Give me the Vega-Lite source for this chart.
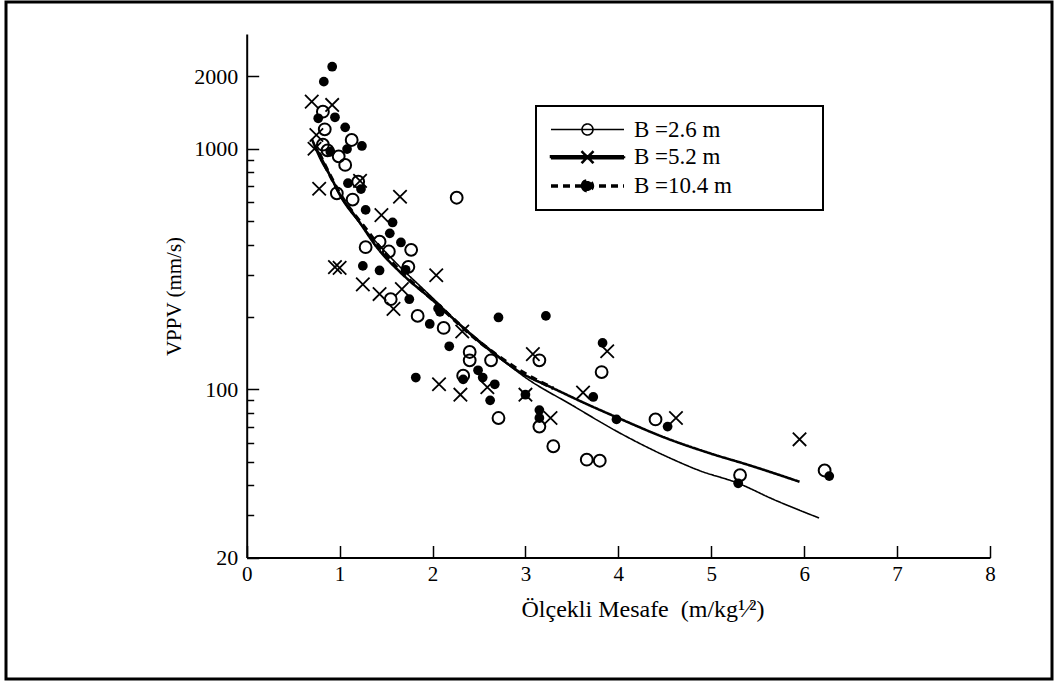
{
  "$schema": "https://vega.github.io/schema/vega-lite/v6.json",
  "width": 1046,
  "height": 677,
  "autosize": {"type": "none"},
  "padding": {"left": 6, "top": 2, "right": 10, "bottom": 3},
  "background": "white",
  "config": {
    "view": {"stroke": "black", "strokeWidth": 3},
    "font": "Liberation Serif",
    "axis": {
      "grid": false,
      "domainColor": "black",
      "domainWidth": 2,
      "tickColor": "black",
      "tickWidth": 1.5,
      "labelColor": "black",
      "titleColor": "black",
      "labelFont": "Liberation Serif",
      "titleFont": "Liberation Serif",
      "titleFontWeight": "normal",
      "labelOverlap": false,
      "labelFlush": false
    }
  },
  "datasets": {
    "points": [
      {"B": "B =2.6 m", "d": 0.82, "v": 1426},
      {"B": "B =2.6 m", "d": 0.84, "v": 1205},
      {"B": "B =2.6 m", "d": 1.13, "v": 1088},
      {"B": "B =2.6 m", "d": 0.82, "v": 1040},
      {"B": "B =2.6 m", "d": 0.87, "v": 985},
      {"B": "B =2.6 m", "d": 0.99, "v": 930},
      {"B": "B =2.6 m", "d": 1.06, "v": 857},
      {"B": "B =2.6 m", "d": 1.2, "v": 730},
      {"B": "B =2.6 m", "d": 0.97, "v": 653},
      {"B": "B =2.6 m", "d": 1.14, "v": 615},
      {"B": "B =2.6 m", "d": 2.26, "v": 626},
      {"B": "B =2.6 m", "d": 1.28, "v": 390},
      {"B": "B =2.6 m", "d": 1.43, "v": 411},
      {"B": "B =2.6 m", "d": 1.53, "v": 374},
      {"B": "B =2.6 m", "d": 1.77, "v": 380},
      {"B": "B =2.6 m", "d": 1.74, "v": 323},
      {"B": "B =2.6 m", "d": 1.55, "v": 237},
      {"B": "B =2.6 m", "d": 1.84, "v": 202},
      {"B": "B =2.6 m", "d": 2.12, "v": 180},
      {"B": "B =2.6 m", "d": 2.4, "v": 143},
      {"B": "B =2.6 m", "d": 2.4, "v": 132},
      {"B": "B =2.6 m", "d": 2.63, "v": 132},
      {"B": "B =2.6 m", "d": 2.33, "v": 114},
      {"B": "B =2.6 m", "d": 2.71, "v": 76},
      {"B": "B =2.6 m", "d": 3.15, "v": 132},
      {"B": "B =2.6 m", "d": 3.15, "v": 70},
      {"B": "B =2.6 m", "d": 3.3, "v": 58},
      {"B": "B =2.6 m", "d": 3.66, "v": 51},
      {"B": "B =2.6 m", "d": 3.8, "v": 50.5},
      {"B": "B =2.6 m", "d": 3.82, "v": 118},
      {"B": "B =2.6 m", "d": 4.4, "v": 75},
      {"B": "B =2.6 m", "d": 5.31, "v": 44},
      {"B": "B =2.6 m", "d": 6.22, "v": 46},
      {"B": "B =5.2 m", "d": 0.7, "v": 1570},
      {"B": "B =5.2 m", "d": 0.92, "v": 1521},
      {"B": "B =5.2 m", "d": 0.75, "v": 1141},
      {"B": "B =5.2 m", "d": 0.73, "v": 1000},
      {"B": "B =5.2 m", "d": 0.78, "v": 682},
      {"B": "B =5.2 m", "d": 1.22, "v": 736},
      {"B": "B =5.2 m", "d": 1.65, "v": 632},
      {"B": "B =5.2 m", "d": 1.45, "v": 530},
      {"B": "B =5.2 m", "d": 0.95, "v": 322},
      {"B": "B =5.2 m", "d": 1.0, "v": 320},
      {"B": "B =5.2 m", "d": 1.25, "v": 273},
      {"B": "B =5.2 m", "d": 1.43, "v": 249},
      {"B": "B =5.2 m", "d": 1.58, "v": 216},
      {"B": "B =5.2 m", "d": 1.67, "v": 261},
      {"B": "B =5.2 m", "d": 2.04, "v": 298},
      {"B": "B =5.2 m", "d": 2.32, "v": 174},
      {"B": "B =5.2 m", "d": 2.07, "v": 105},
      {"B": "B =5.2 m", "d": 2.3, "v": 95},
      {"B": "B =5.2 m", "d": 2.59, "v": 102},
      {"B": "B =5.2 m", "d": 3.0, "v": 95},
      {"B": "B =5.2 m", "d": 3.08, "v": 140},
      {"B": "B =5.2 m", "d": 3.27, "v": 76},
      {"B": "B =5.2 m", "d": 3.62, "v": 97},
      {"B": "B =5.2 m", "d": 3.88, "v": 144},
      {"B": "B =5.2 m", "d": 4.62, "v": 76},
      {"B": "B =5.2 m", "d": 5.95, "v": 62},
      {"B": "B =10.4 m", "d": 0.92, "v": 2193},
      {"B": "B =10.4 m", "d": 0.83, "v": 1901},
      {"B": "B =10.4 m", "d": 0.77, "v": 1339},
      {"B": "B =10.4 m", "d": 0.95, "v": 1352},
      {"B": "B =10.4 m", "d": 1.06, "v": 1228},
      {"B": "B =10.4 m", "d": 1.24, "v": 1027},
      {"B": "B =10.4 m", "d": 1.08, "v": 997},
      {"B": "B =10.4 m", "d": 0.9, "v": 972},
      {"B": "B =10.4 m", "d": 1.09, "v": 719},
      {"B": "B =10.4 m", "d": 1.23, "v": 680},
      {"B": "B =10.4 m", "d": 1.28, "v": 557},
      {"B": "B =10.4 m", "d": 1.57, "v": 494},
      {"B": "B =10.4 m", "d": 1.54, "v": 445},
      {"B": "B =10.4 m", "d": 1.66, "v": 408},
      {"B": "B =10.4 m", "d": 1.25, "v": 326},
      {"B": "B =10.4 m", "d": 1.43, "v": 312},
      {"B": "B =10.4 m", "d": 1.71, "v": 314},
      {"B": "B =10.4 m", "d": 1.75, "v": 237},
      {"B": "B =10.4 m", "d": 1.97, "v": 187},
      {"B": "B =10.4 m", "d": 2.06, "v": 217},
      {"B": "B =10.4 m", "d": 2.08, "v": 210},
      {"B": "B =10.4 m", "d": 2.18, "v": 151},
      {"B": "B =10.4 m", "d": 2.49, "v": 120},
      {"B": "B =10.4 m", "d": 2.54, "v": 112},
      {"B": "B =10.4 m", "d": 2.33, "v": 110},
      {"B": "B =10.4 m", "d": 2.67, "v": 105},
      {"B": "B =10.4 m", "d": 2.62, "v": 90},
      {"B": "B =10.4 m", "d": 1.82, "v": 112},
      {"B": "B =10.4 m", "d": 2.71, "v": 199},
      {"B": "B =10.4 m", "d": 3.22, "v": 202},
      {"B": "B =10.4 m", "d": 3.83, "v": 156},
      {"B": "B =10.4 m", "d": 3.0, "v": 95},
      {"B": "B =10.4 m", "d": 3.15, "v": 82},
      {"B": "B =10.4 m", "d": 3.15, "v": 76},
      {"B": "B =10.4 m", "d": 3.73, "v": 93},
      {"B": "B =10.4 m", "d": 3.98, "v": 75},
      {"B": "B =10.4 m", "d": 4.53, "v": 70},
      {"B": "B =10.4 m", "d": 5.29, "v": 40.7},
      {"B": "B =10.4 m", "d": 6.27, "v": 43.6}
    ],
    "curves": [
      {"B": "B =2.6 m", "d": 0.72, "v": 1060},
      {"B": "B =2.6 m", "d": 0.85, "v": 850},
      {"B": "B =2.6 m", "d": 1.0, "v": 640},
      {"B": "B =2.6 m", "d": 1.2, "v": 500},
      {"B": "B =2.6 m", "d": 1.5, "v": 370},
      {"B": "B =2.6 m", "d": 2.0, "v": 240},
      {"B": "B =2.6 m", "d": 2.5, "v": 157},
      {"B": "B =2.6 m", "d": 2.8, "v": 128},
      {"B": "B =2.6 m", "d": 3.0, "v": 112},
      {"B": "B =2.6 m", "d": 3.5, "v": 86},
      {"B": "B =2.6 m", "d": 3.98, "v": 67},
      {"B": "B =2.6 m", "d": 4.5, "v": 53},
      {"B": "B =2.6 m", "d": 4.87, "v": 46},
      {"B": "B =2.6 m", "d": 5.29, "v": 40.7},
      {"B": "B =2.6 m", "d": 5.66, "v": 35},
      {"B": "B =2.6 m", "d": 6.16, "v": 29.2},
      {"B": "B =5.2 m", "d": 0.7, "v": 1100},
      {"B": "B =5.2 m", "d": 0.8, "v": 900},
      {"B": "B =5.2 m", "d": 0.9, "v": 770},
      {"B": "B =5.2 m", "d": 1.0, "v": 650},
      {"B": "B =5.2 m", "d": 1.2, "v": 505},
      {"B": "B =5.2 m", "d": 1.4, "v": 390},
      {"B": "B =5.2 m", "d": 1.7, "v": 295},
      {"B": "B =5.2 m", "d": 2.0, "v": 235},
      {"B": "B =5.2 m", "d": 2.3, "v": 185},
      {"B": "B =5.2 m", "d": 2.58, "v": 150},
      {"B": "B =5.2 m", "d": 2.94, "v": 118},
      {"B": "B =5.2 m", "d": 3.3, "v": 101},
      {"B": "B =5.2 m", "d": 3.6, "v": 89},
      {"B": "B =5.2 m", "d": 4.0, "v": 76},
      {"B": "B =5.2 m", "d": 4.5, "v": 63},
      {"B": "B =5.2 m", "d": 5.0, "v": 54},
      {"B": "B =5.2 m", "d": 5.4, "v": 48.5},
      {"B": "B =5.2 m", "d": 5.95, "v": 41.3},
      {"B": "B =10.4 m", "d": 0.78, "v": 960},
      {"B": "B =10.4 m", "d": 1.0, "v": 655},
      {"B": "B =10.4 m", "d": 1.3, "v": 455},
      {"B": "B =10.4 m", "d": 1.6, "v": 325},
      {"B": "B =10.4 m", "d": 2.0, "v": 236},
      {"B": "B =10.4 m", "d": 2.5, "v": 158},
      {"B": "B =10.4 m", "d": 3.0, "v": 116},
      {"B": "B =10.4 m", "d": 3.3, "v": 101}
    ]
  },
  "encoding": {
    "x": {
      "field": "d",
      "type": "quantitative",
      "scale": {"domain": [0, 8], "range": [240.7, 984], "nice": false, "zero": false},
      "axis": {
        "values": [0, 1, 2, 3, 4, 5, 6, 7, 8],
        "format": "d",
        "tickSize": -12,
        "labelPadding": 18,
        "labelFontSize": 21,
        "offset": -121.5,
        "title": "Ölçekli Mesafe\u00a0 (m/kg¹⁄²)",
        "titleFontSize": 24,
        "titleX": 636.5,
        "titleY": 52,
        "titleAlign": "center",
        "titleBaseline": "middle"
      }
    },
    "y": {
      "field": "v",
      "type": "quantitative",
      "scale": {"type": "log", "domain": [20, 3000], "range": [555.5, 32], "nice": false},
      "axis": {
        "values": [20, 30, 40, 50, 60, 70, 80, 90, 100, 200, 300, 400, 500, 600, 700, 800, 900, 1000, 2000],
        "labelExpr": "(datum.value == 20 || datum.value == 100 || datum.value == 1000 || datum.value == 2000) ? format(datum.value, 'd') : ''",
        "tickSize": {"condition": {"test": "datum.value == 20 || datum.value == 100 || datum.value == 1000 || datum.value == 2000", "value": -12}, "value": -7},
        "labelPadding": 21,
        "labelFontSize": 22,
        "offset": -240.7,
        "title": "VPPV (mm/s)",
        "titleFontSize": 21,
        "titleAngle": -90,
        "titleX": -72.7,
        "titleY": 294,
        "titleAlign": "center",
        "titleBaseline": "middle"
      }
    }
  },
  "layer": [
    {
      "data": {"name": "points"},
      "transform": [{"filter": "datum.B === 'B =2.6 m'"}],
      "mark": {"type": "point", "shape": "circle", "size": 140, "filled": false, "stroke": "black", "strokeWidth": 2, "opacity": 1}
    },
    {
      "data": {"name": "points"},
      "transform": [{"filter": "datum.B === 'B =5.2 m'"}],
      "mark": {"type": "point", "shape": "M-1,-1L1,1M-1,1L1,-1", "size": 180, "filled": false, "stroke": "black", "strokeWidth": 1.8, "opacity": 1}
    },
    {
      "data": {"name": "points"},
      "transform": [{"filter": "datum.B === 'B =10.4 m'"}],
      "mark": {"type": "point", "shape": "circle", "size": 95, "filled": true, "fill": "black", "stroke": null, "opacity": 1}
    },
    {
      "data": {"name": "curves"},
      "mark": {"type": "line", "interpolate": "monotone", "color": "black"},
      "encoding": {
        "strokeWidth": {
          "field": "B",
          "type": "ordinal",
          "scale": {"domain": ["B =2.6 m", "B =5.2 m", "B =10.4 m"], "range": [1.6, 3.5, 1.6]},
          "legend": null
        },
        "strokeDash": {
          "field": "B",
          "type": "nominal",
          "scale": {"domain": ["B =2.6 m", "B =5.2 m", "B =10.4 m"], "range": [[1, 0], [1, 0], [7, 5]]},
          "legend": {
            "title": null,
            "orient": "none",
            "legendX": 530,
            "legendY": 104,
            "direction": "vertical",
            "strokeColor": "black",
            "fillColor": "white",
            "padding": 12,
            "labelFont": "Liberation Serif",
            "labelFontSize": 23,
            "labelColor": "black",
            "labelLimit": 400,
            "symbolSize": 100,
            "symbolStrokeWidth": 1.5,
            "symbolStrokeColor": "black",
            "symbolOffset": 28,
            "labelOffset": 35,
            "rowPadding": 3.7,
            "encode": {
              "legend": {"update": {"strokeWidth": {"value": 2}}},
              "symbols": {
                "update": {
                  "shape": {"signal": "datum.value === 'B =2.6 m' ? 'M-7.3,0H7.3M-1.1,0A1.1,1.1,0,1,0,1.1,0A1.1,1.1,0,1,0,-1.1,0ZM43.3,0' : datum.value === 'B =5.2 m' ? 'M-7.3,-0.2H7.3V0.2H-7.3ZM-1.2,-1.2L1.2,1.2M-1.2,1.2L1.2,-1.2M43.3,0' : 'M-7.3,0H7.3M-1,0A1,1,0,1,0,1,0A1,1,0,1,0,-1,0ZM43.3,0'"},
                  "fill": {"signal": "datum.value === 'B =2.6 m' ? 'transparent' : 'black'"},
                  "stroke": {"value": "black"},
                  "strokeWidth": {"value": 1.5},
                  "opacity": {"value": 1}
                }
              }
            }
          }
        }
      }
    }
  ]
}
